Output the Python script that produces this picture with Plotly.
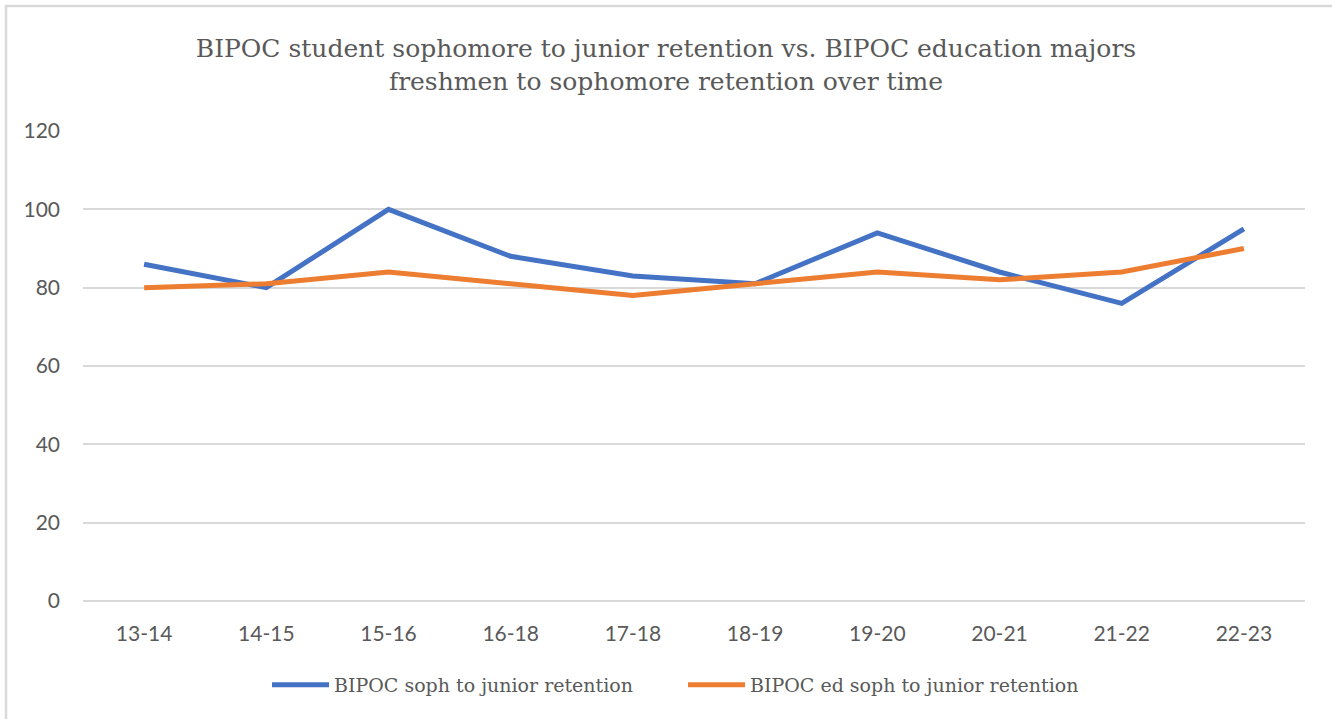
import plotly.graph_objects as go

# Academic years on the category axis
years = ["13-14", "14-15", "15-16", "16-18", "17-18", "18-19", "19-20", "20-21", "21-22", "22-23"]

# Retention rates (%)
bipoc_soph_junior = [86, 80, 100, 88, 83, 81, 94, 84, 76, 95]
bipoc_ed_soph_junior = [80, 81, 84, 81, 78, 81, 84, 82, 84, 90]

y_ticks = [0, 20, 40, 60, 80, 100, 120]

BLUE = "#4472C4"
ORANGE = "#ED7D31"
TEXT = "#595959"
GRID = "#D9D9D9"
SERIF = "DejaVu Serif"
SANS = "Lato"

fig = go.Figure()
fig.add_trace(go.Scatter(
    x=years, y=bipoc_soph_junior, mode="lines",
    name="BIPOC soph to junior retention",
    line=dict(color=BLUE, width=5),
))
fig.add_trace(go.Scatter(
    x=years, y=bipoc_ed_soph_junior, mode="lines",
    name="BIPOC ed soph to junior retention",
    line=dict(color=ORANGE, width=5),
))

fig.update_layout(
    width=1332, height=719,
    margin=dict(l=83, r=27, t=131, b=118),
    paper_bgcolor="white", plot_bgcolor="white",
    title=dict(
        text="BIPOC student sophomore to junior retention vs. BIPOC education majors<br>"
             "freshmen to sophomore retention over time",
        x=0.5, xref="container", xanchor="center",
        y=1 - 57 / 719, yref="container", yanchor="middle",
        font=dict(family=SERIF, size=25, color=TEXT),
    ),
    xaxis=dict(
        type="category", range=[-0.5, len(years) - 0.5],
        showgrid=False, zeroline=False, showline=False,
        ticks="", tickfont=dict(family=SANS, size=21, color=TEXT),
        ticklabelstandoff=18,
    ),
    yaxis=dict(
        range=[0, 120], tickvals=y_ticks, showgrid=True, gridcolor=GRID,
        gridwidth=1.5, zeroline=True, zerolinecolor=GRID, zerolinewidth=1.5,
        showline=False, ticks="",
        tickfont=dict(family=SANS, size=21, color=TEXT),
        ticklabelstandoff=22,
    ),
    legend=dict(
        orientation="h", x=683 / 1332, xref="container", xanchor="center",
        y=1 - 685 / 719, yref="container", yanchor="middle",
        font=dict(family=SERIF, size=19, color=TEXT),
        itemwidth=57, entrywidth=344,
    ),
    showlegend=True,
)

# Chart frame (top and left edges visible)
fig.add_shape(type="line", xref="paper", yref="paper",
              x0=-78 / 1222, x1=1.1, y0=1 + 125 / 470, y1=1 + 125 / 470,
              line=dict(color=GRID, width=2.5))
fig.add_shape(type="line", xref="paper", yref="paper",
              x0=-77 / 1222, x1=-77 / 1222, y0=-0.3, y1=1 + 126 / 470,
              line=dict(color=GRID, width=2.5))

fig.write_html("out.html")
